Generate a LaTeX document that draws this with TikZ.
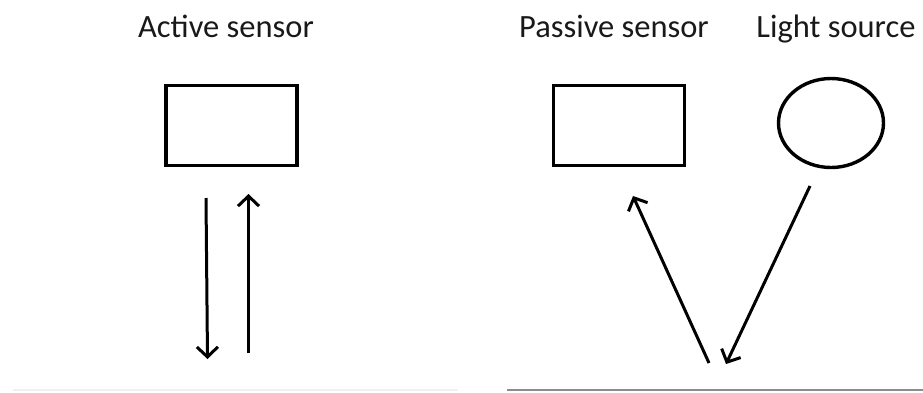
\documentclass[tikz,border=0pt]{standalone}
\usepackage{fontspec}
\setmainfont{Carlito}
\usetikzlibrary{arrows.meta,shapes.geometric}
\begin{document}
\begin{tikzpicture}[x=1pt,y=-1pt,
  lbl/.style={font=\fontsize{32.5}{38}\selectfont, text=black!90, anchor=base, inner sep=0pt},
  sensorbox/.style={draw=black, line width=3.6pt, minimum width=131pt, minimum height=80pt, inner sep=0pt},
  lamp/.style={draw=black, line width=3.4pt, ellipse, minimum width=105pt, minimum height=89pt, inner sep=0pt},
  ray/.style={line width=3pt, -{Straight Barb[length=10pt,width=21pt,line width=3pt]}}
]
\useasboundingbox (0,0) rectangle (923,392);
% labels
\node[lbl] (tA) at (226,37) {Active sensor};
\node[lbl] (tP) at (614,37) {Passive sensor};
\node[lbl] (tL) at (836,37) {Light source};
% shapes
\node[sensorbox] (sA) at (231.5,125.5) {};
\node[sensorbox] (sP) at (619,125.5) {};
\node[lamp] (ls) at (831,123) {};
% ray end points
\coordinate (a1) at (206,198);
\coordinate (a2) at (207.5,359);
\coordinate (b1) at (248.5,353);
\coordinate (b2) at (248.5,194);
\coordinate (c1) at (709,363);
\coordinate (c2) at (633,196);
\coordinate (d1) at (810,186);
\coordinate (d2) at (726,364);
\draw[ray] (a1) -- (a2);
\draw[ray] (b1) -- (b2);
\draw[ray] (c1) -- (c2);
\draw[ray] (d1) -- (d2);
% ground lines
\coordinate (g1) at (13,390);
\coordinate (g2) at (458,390);
\coordinate (g3) at (507,390);
\coordinate (g4) at (923,390);
\draw[black!6, line width=1.5pt] (g1) -- (g2);
\draw[black!45, line width=1.8pt] (g3) -- (g4);
\end{tikzpicture}
\end{document}
